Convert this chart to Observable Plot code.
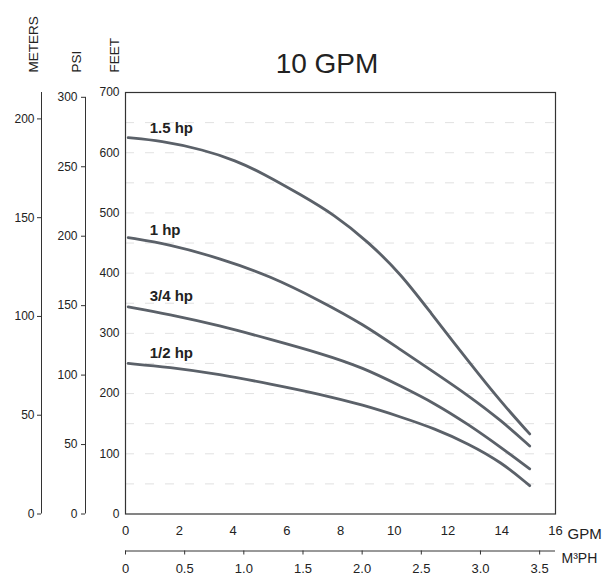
<!DOCTYPE html>
<html><head><meta charset="utf-8">
<script src="https://cdn.jsdelivr.net/npm/d3@7"></script>
<script src="https://cdn.jsdelivr.net/npm/@observablehq/plot@0.6"></script>
<style>body{margin:0;background:#fff} svg{display:block}</style>
</head><body><div id="chart"></div>
<script>
const title = "10 GPM";
const seriesNames = ["1.5 hp", "1 hp", "3/4 hp", "1/2 hp"];

// flow (GPM) and head (feet)
const gpm15 = [0.1, 1.3, 2.9, 4.1, 5.1, 6.53, 7.77, 9.01, 10.26, 11.31, 12.75, 13.99, 15.04];
const feet15 = [625, 620, 605, 587, 566, 530, 497, 453, 398, 337, 254, 185, 133];
const gpm1 = [0.1, 1.6, 3.5, 5.4, 7.25, 8.85, 10.26, 11.5, 12.75, 13.99, 15.04];
const feet1 = [459, 448, 425, 395, 354, 315, 272, 235, 197, 155, 113];
const gpm34 = [0.1, 1.6, 3.5, 5.4, 7.25, 8.85, 10.26, 11.5, 12.75, 13.99, 15.04];
const feet34 = [344, 332, 313, 290, 267, 243, 212, 184, 149, 110, 75];
const gpm12 = [0.1, 1.6, 3.5, 5.4, 7.25, 8.85, 10.26, 11.5, 12.75, 13.99, 15.04];
const feet12 = [250, 244, 232, 216, 199, 181, 161, 142, 117, 86, 47];

const labelGpm = [0.9, 0.9, 0.9, 0.9];
const labelFeet = [641, 472, 362, 267];

const feetTicks = [0, 100, 200, 300, 400, 500, 600, 700];
const psiTicks = [0, 50, 100, 150, 200, 250, 300];
const meterTicks = [0, 50, 100, 150, 200];
const gpmTicks = [0, 2, 4, 6, 8, 10, 12, 14, 16];
const m3phTicks = [0, 0.5, 1.0, 1.5, 2.0, 2.5, 3.0, 3.5];
const gridFeet = [50, 100, 150, 200, 250, 300, 350, 400, 450, 500, 550, 600, 650];

const FT_PER_PSI = 2.3067;
const FT_PER_M = 3.2808;
const GPM_PER_M3PH = 4.4029;

const seriesX = [gpm15, gpm1, gpm34, gpm12];
const seriesY = [feet15, feet1, feet34, feet12];
const curves = seriesNames.flatMap((s, i) => seriesX[i].map((g, j) => ({series: s, gpm: g, feet: seriesY[i][j]})));
const labels = seriesNames.map((s, i) => ({text: s, gpm: labelGpm[i], feet: labelFeet[i]}));

const ink = "#222";
const chart = Plot.plot({
  width: 608,
  height: 576,
  marginLeft: 125,
  marginRight: 53,
  marginTop: 92,
  marginBottom: 62.5,
  style: {fontFamily: "'Liberation Sans', Arial, sans-serif", background: "#fff"},
  x: {domain: [0, 16]},
  y: {domain: [0, 700]},
  marks: [
    Plot.ruleY(gridFeet, {stroke: "#aaa", strokeOpacity: 0.35, strokeDasharray: "9,11"}),
    Plot.line(curves, {x: "gpm", y: "feet", z: "series", stroke: "#5b6169", strokeWidth: 2.8, curve: "basis"}),
    Plot.frame({stroke: "#333", strokeWidth: 1.2}),
    Plot.text(labels, {x: "gpm", y: "feet", text: "text", textAnchor: "start", fontWeight: "bold", fontSize: 15, fill: ink}),
    // FEET axis
    Plot.axisY(feetTicks, {tickSize: 0, tickPadding: 6, fontSize: 12, label: null, fill: ink}),
    // PSI axis
    Plot.ruleX([0], {dx: -40, y1: 0, y2: 300 * FT_PER_PSI, stroke: "#333"}),
    Plot.axisY(psiTicks.map(p => p * FT_PER_PSI), {dx: -40, tickSize: 4, tickPadding: 4, fontSize: 12, label: null, fill: ink, stroke: "#333",
      tickFormat: d => String(Math.round(d / FT_PER_PSI))}),
    // METERS axis
    Plot.ruleX([0], {dx: -84, y1: 0, y2: 700, stroke: "#333"}),
    Plot.axisY(meterTicks.map(m => m * FT_PER_M), {dx: -84, tickSize: 4, tickPadding: 3, fontSize: 12, label: null, fill: ink, stroke: "#333",
      tickFormat: d => String(Math.round(d / FT_PER_M))}),
    // GPM axis
    Plot.axisX(gpmTicks, {tickSize: 0, tickPadding: 12, fontSize: 13, label: null, fill: ink}),
    // M3PH axis
    Plot.ruleY([0], {x1: 0, x2: 16, dy: 37, stroke: "#333"}),
    Plot.axisX(m3phTicks.map(v => v * GPM_PER_M3PH), {dy: 37, tickSize: 4, tickPadding: 9, fontSize: 13, label: null, fill: ink, stroke: "#333",
      tickFormat: d => { const v = d / GPM_PER_M3PH; return v < 0.01 ? "0" : v.toFixed(1); }}),
    // titles and unit labels
    Plot.text([title], {text: d => d, frameAnchor: "top", dx: -13.5, dy: -20, lineAnchor: "bottom", fontSize: 28, fill: ink}),
    Plot.text(["METERS"], {text: d => d, frameAnchor: "top-left", dx: -88, dy: -20, rotate: -90, textAnchor: "start", lineAnchor: "bottom", fontSize: 13.5, fill: ink}),
    Plot.text(["PSI"], {text: d => d, frameAnchor: "top-left", dx: -45, dy: -20, rotate: -90, textAnchor: "start", lineAnchor: "bottom", fontSize: 13.5, fill: ink}),
    Plot.text(["FEET"], {text: d => d, frameAnchor: "top-left", dx: -7, dy: -20, rotate: -90, textAnchor: "start", lineAnchor: "bottom", fontSize: 13.5, fill: ink}),
    Plot.text(["GPM"], {text: d => d, frameAnchor: "bottom-right", dx: 12, dy: 20, textAnchor: "start", lineAnchor: "middle", fontSize: 15, fill: ink}),
    Plot.text(["M³PH"], {text: d => d, frameAnchor: "bottom-right", dx: 6, dy: 45, textAnchor: "start", lineAnchor: "middle", fontSize: 14, fill: ink})
  ]
});
document.getElementById("chart").appendChild(chart);
</script>
</body></html>
